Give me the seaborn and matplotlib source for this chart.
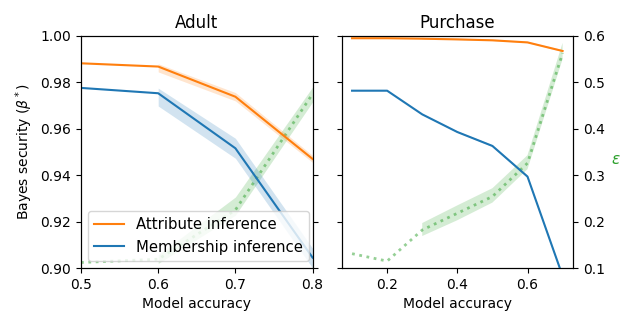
import numpy as np
import pandas as pd
import matplotlib
matplotlib.use("Agg")
import matplotlib.pyplot as plt
import seaborn as sns

nan = np.nan

# ---- Adult ----
adult_acc = [0.5, 0.6, 0.7, 0.8]
adult_attr = [0.9882, 0.9868, 0.9738, 0.9470]
adult_attr_lo = [nan, 0.9845, 0.9720, 0.9455]
adult_attr_hi = [nan, 0.9880, 0.9756, 0.9485]
adult_mem = [0.9776, 0.9753, 0.9516, 0.9045]
adult_mem_lo = [nan, 0.9698, 0.9473, 0.9000]
adult_mem_hi = [nan, 0.9775, 0.9559, 0.9085]
adult_eps = [0.112, 0.119, 0.225, 0.475]
adult_eps_lo = [nan, 0.110, 0.214, 0.458]
adult_eps_hi = [nan, 0.128, 0.253, 0.490]

# ---- Purchase ----
purch_acc = [0.1, 0.2, 0.3, 0.4, 0.5, 0.6, 0.7]
purch_attr = [0.9990, 0.9990, 0.9988, 0.9985, 0.9981, 0.9972, 0.9935]
purch_attr_lo = [0.9987, nan, 0.9985, 0.9982, 0.9978, 0.9969, 0.9931]
purch_attr_hi = [0.9993, nan, 0.9991, 0.9988, 0.9984, 0.9975, 0.9939]
purch_mem = [0.9764, 0.9764, 0.9662, 0.9586, 0.9526, 0.9394, 0.8966]
purch_mem_lo = [0.9761, nan, 0.9659, 0.9583, 0.9522, 0.9388, 0.8958]
purch_mem_hi = [0.9767, nan, 0.9665, 0.9589, 0.9530, 0.9400, 0.8974]
purch_eps = [0.131, 0.115, 0.182, 0.218, 0.254, 0.326, 0.563]
purch_eps_lo = [0.123, nan, 0.169, 0.203, 0.241, 0.313, 0.550]
purch_eps_hi = [0.142, nan, 0.197, 0.235, 0.272, 0.343, 0.585]

titles = ["Adult", "Purchase"]
C_ATTR, C_MEM, C_EPS = "tab:orange", "tab:blue", "tab:green"

plt.rcParams["font.family"] = ["DejaVu Sans"]
plt.rcParams["font.size"] = 10

fig, axes = plt.subplots(1, 2, figsize=(6.25, 3.15), dpi=100, sharey=True)
fig.subplots_adjust(left=0.1296, right=0.917, bottom=0.149, top=0.886, wspace=0.125)

datasets = [
    (adult_acc, adult_attr, adult_attr_lo, adult_attr_hi, adult_mem, adult_mem_lo, adult_mem_hi,
     adult_eps, adult_eps_lo, adult_eps_hi),
    (purch_acc, purch_attr, purch_attr_lo, purch_attr_hi, purch_mem, purch_mem_lo, purch_mem_hi,
     purch_eps, purch_eps_lo, purch_eps_hi),
]

for i, (ax, d) in enumerate(zip(axes, datasets)):
    acc, attr, attr_lo, attr_hi, mem, mem_lo, mem_hi, eps, eps_lo, eps_hi = d
    df = pd.DataFrame({"acc": acc, "attr": attr, "mem": mem, "eps": eps})
    ax2 = ax.twinx()
    # epsilon on twin axis, placed underneath
    sns.lineplot(data=df, x="acc", y="eps", ax=ax2, color=C_EPS, linestyle=":",
                 linewidth=2, alpha=0.5, errorbar=None)
    ax2.fill_between(acc, eps_lo, eps_hi, color=C_EPS, alpha=0.2, linewidth=0)
    ax2.set_ylim(0.1, 0.6)
    ax2.set_ylabel("")
    if i == 0:
        ax2.tick_params(labelright=False)
    else:
        ax2.set_ylabel(r"$\varepsilon$", color=C_EPS, rotation=0, labelpad=8, fontsize=11)

    sns.lineplot(data=df, x="acc", y="attr", ax=ax, color=C_ATTR, errorbar=None,
                 label="Attribute inference")
    ax.fill_between(acc, attr_lo, attr_hi, color=C_ATTR, alpha=0.2, linewidth=0)
    sns.lineplot(data=df, x="acc", y="mem", ax=ax, color=C_MEM, errorbar=None,
                 label="Membership inference")
    ax.fill_between(acc, mem_lo, mem_hi, color=C_MEM, alpha=0.2, linewidth=0)

    ax.set_zorder(ax2.get_zorder() + 1)
    ax.patch.set_visible(False)

    ax.set_title(titles[i], fontsize=12)
    ax.set_xlabel("Model accuracy")
    ax.set_ylim(0.90, 1.00)
    if i == 0:
        ax.set_xlim(0.5, 0.8)
        ax.set_xticks([0.5, 0.6, 0.7, 0.8])
        ax.set_ylabel(r"Bayes security ($\beta^*$)")
        ax.legend(loc="lower left", fontsize=10.7)
    else:
        ax.set_ylabel("")
        if ax.get_legend():
            ax.get_legend().remove()
        ax.set_xticks([0.2, 0.4, 0.6])

fig.savefig("out.png", dpi=100)
